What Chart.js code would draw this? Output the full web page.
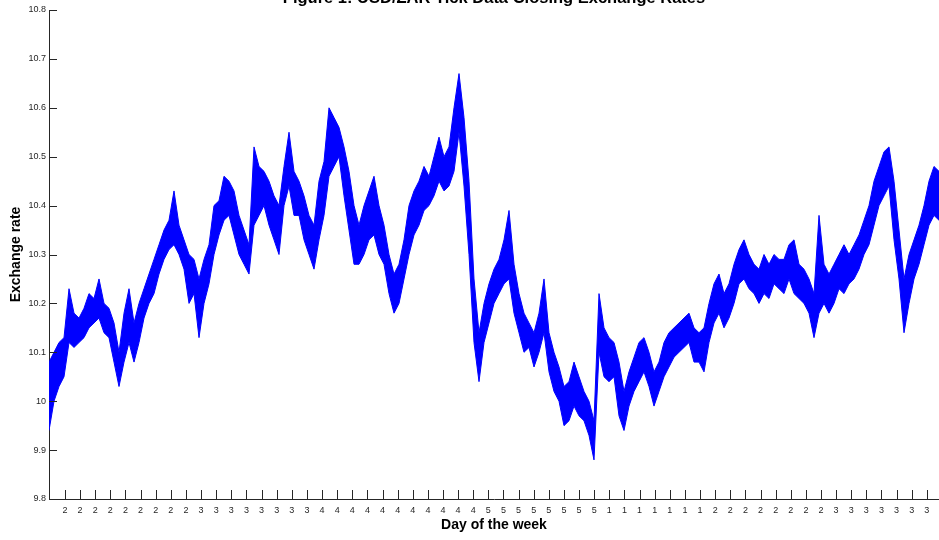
<!DOCTYPE html>
<html>
<head>
<meta charset="utf-8">
<script src="https://cdn.jsdelivr.net/npm/chart.js@4.4.1/dist/chart.umd.min.js"></script>
<style>
  html, body { margin: 0; padding: 0; background: #ffffff; }
  #wrap { width: 939px; height: 540px; }
</style>
</head>
<body>
<div id="wrap"><canvas id="chart" width="939" height="540"></canvas></div>
<script>
// USD/ZAR closing exchange rate, tick data summarised into bins (low / high of each bin)
const chartTitle = 'Figure 1: USD/ZAR Tick Data Closing Exchange Rates';
const xAxisTitle = 'Day of the week';
const yAxisTitle = 'Exchange rate';

// day-of-week label for each tick on the horizontal axis
const dayLabels = [
  2,2,2,2,2,2,2,2,2,
  3,3,3,3,3,3,3,3,
  4,4,4,4,4,4,4,4,4,4,4,
  5,5,5,5,5,5,5,5,
  1,1,1,1,1,1,1,
  2,2,2,2,2,2,2,2,
  3,3,3,3,3,3,3
];

// lowest rate in each bin
const rateLow = [
  9.94,10.00,10.03,10.05,10.12,10.11,10.12,10.13,10.15,10.16,
  10.17,10.14,10.13,10.08,10.03,10.08,10.12,10.08,10.12,10.17,
  10.20,10.22,10.26,10.29,10.31,10.32,10.30,10.27,10.20,10.22,
  10.13,10.20,10.24,10.30,10.34,10.37,10.38,10.34,10.30,10.28,
  10.26,10.36,10.38,10.40,10.36,10.33,10.30,10.40,10.44,10.38,
  10.38,10.33,10.30,10.27,10.33,10.38,10.46,10.48,10.50,10.42,
  10.35,10.28,10.28,10.30,10.33,10.34,10.30,10.28,10.22,10.18,
  10.20,10.25,10.30,10.34,10.36,10.39,10.40,10.42,10.45,10.43,
  10.44,10.47,10.55,10.44,10.30,10.12,10.04,10.12,10.16,10.20,
  10.22,10.24,10.25,10.18,10.14,10.10,10.11,10.07,10.10,10.14,
  10.06,10.02,10.00,9.95,9.96,9.99,9.97,9.96,9.93,9.88,
  10.10,10.05,10.04,10.05,9.97,9.94,9.99,10.02,10.04,10.06,
  10.03,9.99,10.02,10.05,10.07,10.09,10.10,10.11,10.12,10.08,
  10.08,10.06,10.12,10.16,10.18,10.15,10.17,10.20,10.24,10.25,
  10.23,10.22,10.20,10.22,10.21,10.24,10.23,10.22,10.25,10.22,
  10.21,10.20,10.18,10.13,10.18,10.20,10.18,10.20,10.23,10.22,
  10.24,10.25,10.27,10.30,10.32,10.36,10.40,10.42,10.44,10.33,
  10.25,10.14,10.20,10.25,10.28,10.32,10.36,10.38,10.37
];

// highest rate in each bin
const rateHigh = [
  10.08,10.10,10.12,10.13,10.23,10.18,10.17,10.19,10.22,10.21,
  10.25,10.20,10.19,10.16,10.10,10.18,10.23,10.16,10.20,10.23,
  10.26,10.29,10.32,10.35,10.37,10.43,10.36,10.33,10.30,10.29,
  10.25,10.29,10.32,10.40,10.41,10.46,10.45,10.43,10.38,10.35,
  10.32,10.52,10.48,10.47,10.45,10.42,10.40,10.48,10.55,10.47,
  10.45,10.42,10.38,10.36,10.45,10.49,10.60,10.58,10.56,10.52,
  10.47,10.40,10.36,10.40,10.43,10.46,10.40,10.36,10.30,10.26,
  10.28,10.33,10.40,10.43,10.45,10.48,10.46,10.50,10.54,10.50,
  10.52,10.60,10.67,10.58,10.45,10.25,10.14,10.20,10.24,10.27,
  10.29,10.33,10.39,10.28,10.22,10.18,10.16,10.14,10.18,10.25,
  10.14,10.10,10.07,10.03,10.04,10.08,10.05,10.02,10.00,9.96,
  10.22,10.15,10.13,10.12,10.08,10.02,10.06,10.09,10.12,10.13,
  10.10,10.06,10.08,10.12,10.14,10.15,10.16,10.17,10.18,10.15,
  10.14,10.15,10.20,10.24,10.26,10.22,10.24,10.28,10.31,10.33,
  10.30,10.28,10.27,10.30,10.28,10.30,10.29,10.29,10.32,10.33,
  10.28,10.27,10.25,10.22,10.38,10.28,10.26,10.28,10.30,10.32,
  10.30,10.32,10.34,10.37,10.40,10.45,10.48,10.51,10.52,10.45,
  10.35,10.25,10.30,10.33,10.36,10.40,10.45,10.48,10.47
];

// where the first day tick sits (in bins) and the spacing between ticks
const firstDayTick = 3.2;
const dayTickStep = 3.024;

const AXIS_COLOR = '#262626';
const LINE_COLOR = '#0000ff';
const FONT = '"Liberation Sans", Arial, Helvetica, sans-serif';

const toPoints = arr => arr.map((v, i) => ({ x: i, y: v }));

// inward tick marks plus the chart and axis titles
const axisDecor = {
  id: 'axisDecor',
  afterDraw(chart) {
    const { ctx, chartArea: a, scales: { x, y } } = chart;
    ctx.save();
    ctx.strokeStyle = AXIS_COLOR;
    ctx.lineWidth = 1;
    ctx.beginPath();
    y.ticks.forEach(t => {
      const py = Math.round(y.getPixelForValue(t.value)) + 0.5;
      ctx.moveTo(a.left, py);
      ctx.lineTo(a.left + 8, py);
    });
    x.ticks.forEach(t => {
      const px = Math.round(x.getPixelForValue(t.value)) + 0.5;
      ctx.moveTo(px, a.bottom);
      ctx.lineTo(px, a.bottom - 9);
    });
    ctx.stroke();

    const midX = (a.left + a.right) / 2;
    ctx.fillStyle = '#000000';
    ctx.textAlign = 'center';
    ctx.font = 'bold 16.5px ' + FONT;
    ctx.textBaseline = 'alphabetic';
    ctx.fillText(chartTitle, midX, 3);

    ctx.font = 'bold 14px ' + FONT;
    ctx.textBaseline = 'middle';
    ctx.fillText(xAxisTitle, midX, 525);

    ctx.translate(16, (a.top + a.bottom) / 2);
    ctx.rotate(-Math.PI / 2);
    ctx.fillText(yAxisTitle, 0, 0);
    ctx.restore();
  }
};

new Chart(document.getElementById('chart'), {
  type: 'line',
  data: {
    datasets: [
      {
        label: 'High',
        data: toPoints(rateHigh),
        borderColor: LINE_COLOR,
        borderWidth: 1,
        pointRadius: 0,
        tension: 0,
        fill: false
      },
      {
        label: 'Low',
        data: toPoints(rateLow),
        borderColor: LINE_COLOR,
        backgroundColor: LINE_COLOR,
        borderWidth: 1,
        pointRadius: 0,
        tension: 0,
        fill: '-1'
      }
    ]
  },
  options: {
    responsive: false,
    animation: false,
    devicePixelRatio: 1,
    layout: { padding: { top: 10, left: 0, right: 0, bottom: 0 } },
    plugins: {
      legend: { display: false },
      tooltip: { enabled: false },
      title: { display: false }
    },
    scales: {
      x: {
        type: 'linear',
        min: 0,
        max: rateLow.length - 1,
        grid: { display: false, drawTicks: false },
        border: { display: true, color: AXIS_COLOR, width: 1 },
        afterBuildTicks(scale) {
          scale.ticks = dayLabels.map((_, k) => ({ value: firstDayTick + k * dayTickStep }));
        },
        afterFit(scale) { scale.height = 41; },
        ticks: {
          autoSkip: false,
          maxRotation: 0,
          minRotation: 0,
          padding: 6,
          color: AXIS_COLOR,
          font: { family: FONT, size: 9 },
          callback: (value, index) => String(dayLabels[index])
        }
      },
      y: {
        type: 'linear',
        min: 9.8,
        max: 10.8,
        grid: { display: false, drawTicks: false },
        border: { display: true, color: AXIS_COLOR, width: 1 },
        afterFit(scale) { scale.width = 49; },
        ticks: {
          stepSize: 0.1,
          padding: 3,
          color: AXIS_COLOR,
          font: { family: FONT, size: 9 },
          callback: value => String(Number(value.toFixed(1)))
        }
      }
    }
  },
  plugins: [axisDecor]
});
</script>
</body>
</html>
